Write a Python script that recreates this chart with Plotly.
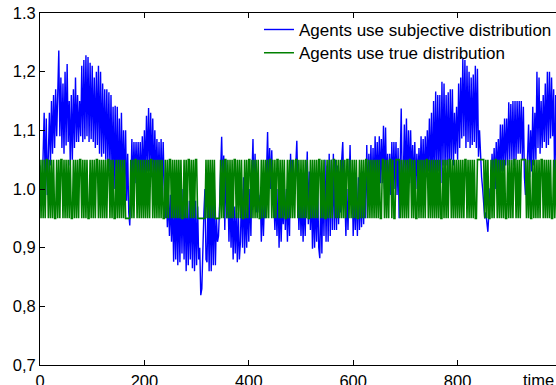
import plotly.graph_objects as go

# subjective-distribution series, one value every 2 time units (t = 0..998)
subj = [
    1.04, 1.02, 0.99, 1.06, 1.13, 1.00, 1.12, 0.99, 1.05, 1.13, 1.04, 1.15, 1.06, 1.16, 1.07, 1.17, 1.09, 1.20, 1.236, 1.09,
    1.19, 1.07, 1.18, 1.06, 1.20, 1.074, 1.213, 1.08, 1.15, 1.04, 1.16, 1.05, 1.17, 1.07, 1.19, 1.08, 1.16, 1.08, 1.15, 1.09,
    1.21, 1.08, 1.22, 1.085, 1.228, 1.09, 1.225, 1.08, 1.215, 1.085, 1.21, 1.08, 1.19, 1.07, 1.20, 1.075, 1.21, 1.06, 1.20, 1.055,
    1.18, 1.06, 1.17, 1.05, 1.17, 1.04, 1.165, 1.03, 1.16, 1.018, 1.14, 1.00, 1.142, 0.99, 1.14, 0.98, 1.12, 0.99, 1.13, 1.00,
    1.10, 1.00, 1.10, 0.98, 1.06, 0.96, 0.938, 1.00, 1.085, 1.00, 1.08, 1.01, 1.08, 1.01, 1.08, 1.00, 1.08, 1.00, 1.09, 1.01,
    1.10, 1.02, 1.125, 1.03, 1.138, 1.03, 1.13, 1.02, 1.12, 1.00, 1.10, 1.01, 1.085, 1.00, 1.08, 0.99, 1.085, 0.99, 1.08, 1.00,
    0.95, 1.00, 0.935, 0.99, 0.92, 0.99, 0.91, 0.98, 0.876, 0.98, 0.88, 0.99, 0.87, 0.99, 0.875, 1.00, 0.89, 1.00, 0.88, 0.99,
    0.86, 0.99, 0.87, 0.98, 0.88, 0.99, 0.865, 1.00, 0.86, 0.98, 0.87, 0.97, 0.88, 0.90, 0.819, 0.83, 0.92, 0.96, 1.00, 0.88,
    0.875, 0.99, 0.86, 1.00, 0.86, 0.99, 0.87, 1.00, 0.87, 0.95, 0.91, 0.92, 0.97, 1.03, 1.089, 1.00, 1.057, 0.93, 1.05, 0.95,
    1.00, 0.91, 0.99, 0.90, 0.98, 0.88, 0.97, 0.89, 0.97, 0.875, 0.96, 0.88, 0.91, 1.00, 0.90, 1.02, 0.89, 0.98, 0.90, 0.99,
    0.91, 1.00, 0.92, 1.02, 1.085, 0.97, 1.06, 0.96, 0.97, 1.00, 0.96, 0.99, 0.91, 0.99, 0.92, 0.98, 0.95, 1.03, 1.097, 1.00,
    1.07, 1.00, 1.066, 0.99, 0.98, 0.93, 0.99, 0.92, 1.00, 0.90, 0.99, 0.91, 0.98, 0.94, 1.00, 0.93, 1.00, 0.91, 0.99, 0.92,
    1.06, 0.98, 1.05, 0.99, 1.00, 1.04, 1.082, 1.00, 0.93, 1.00, 0.92, 0.99, 0.91, 0.99, 0.92, 1.00, 1.064, 0.94, 1.03, 0.93,
    1.00, 0.898, 0.99, 0.90, 0.99, 0.91, 1.00, 0.90, 0.882, 1.00, 0.89, 1.02, 0.92, 1.05, 0.91, 1.04, 0.91, 1.06, 0.92, 1.05,
    0.93, 1.06, 0.93, 1.05, 0.93, 1.04, 0.94, 1.03, 0.96, 1.05, 1.08, 1.00, 0.99, 0.92, 1.00, 0.93, 1.00, 1.075, 0.98, 1.02,
    0.92, 1.00, 0.93, 1.01, 0.92, 1.02, 0.93, 1.00, 0.935, 1.03, 0.94, 1.02, 0.95, 1.075, 0.97, 1.06, 1.00, 1.075, 0.99, 1.07,
    0.99, 1.09, 1.00, 1.08, 1.00, 1.09, 1.01, 1.085, 1.01, 1.108, 1.00, 1.105, 1.00, 1.06, 0.99, 1.06, 0.99, 1.08, 1.00, 1.08,
    1.00, 1.08, 0.99, 1.07, 0.95, 1.04, 1.137, 1.00, 1.02, 1.11, 1.01, 1.12, 1.00, 1.10, 1.01, 1.10, 1.02, 1.075, 1.00, 1.08,
    1.00, 1.06, 1.01, 1.07, 1.01, 1.09, 1.00, 1.085, 1.00, 1.09, 1.02, 1.10, 1.03, 1.12, 1.02, 1.13, 1.00, 1.15, 1.02, 1.166,
    1.02, 1.16, 1.03, 1.16, 1.01, 1.183, 1.04, 1.18, 1.03, 1.16, 1.04, 1.165, 1.02, 1.17, 1.05, 1.17, 1.04, 1.13, 1.06, 1.14,
    1.05, 1.18, 1.07, 1.19, 1.086, 1.222, 1.09, 1.22, 1.07, 1.21, 1.08, 1.20, 1.07, 1.19, 1.075, 1.195, 1.08, 1.21, 1.07, 1.205,
    1.055, 1.10, 1.05, 1.02, 1.00, 0.97, 0.95, 0.96, 0.94, 0.927, 0.96, 1.00, 1.00, 1.06, 1.01, 1.07, 1.00, 1.08, 1.02, 1.085,
    1.02, 1.11, 1.03, 1.11, 1.03, 1.12, 1.04, 1.12, 1.04, 1.148, 1.05, 1.145, 1.05, 1.15, 1.04, 1.15, 1.05, 1.15, 1.06, 1.15,
    1.06, 1.15, 1.05, 1.14, 1.02, 0.99, 1.00, 1.05, 1.11, 1.02, 1.10, 1.03, 1.14, 1.04, 1.13, 1.05, 1.20, 1.07, 1.19, 1.06,
    1.15, 1.07, 1.16, 1.08, 1.18, 1.07, 1.20, 1.075, 1.20, 1.086, 1.19, 1.09, 1.17, 1.00, 1.16, 1.02, 1.16, 1.02, 1.16, 1.03,
]
t_subj = [2 * i for i in range(len(subj))]

# true-distribution series: state every 2 time units (1 -> high level, 0 -> low level)
true_states = (
    "1010101101" "0101001010" "1101010101" "0010101011" "0101010010"
    "1010110101" "0101011010" "1001010101" "0100000101" "0110101010"
    "1010101101" "0101010100" "1010110101" "0101010010" "1011010101"
    "1000000001" "0101010100" "0001010110" "1010101101" "0101001010"
    "1101010101" "0010101010" "1101010110" "1010100101" "0101011010"
    "1010101001" "0101010110" "1010010101" "0110101010" "1010110101"
    "0101001010" "1011010101" "0101010011" "0101011010" "0111101010"
    "1010110101" "0010101010" "1101010101" "0101001010" "1011010101"
    "0101010110" "1010101001" "1111110101" "0010101101" "0101010010"
    "1010110101" "0111110101" "0010101010" "1101010101" "0010101101"
)
true_levels = [0.95, 1.05]
t_true = [2 * i for i in range(len(true_states))]
true_vals = [true_levels[int(c)] for c in true_states]

y_ticks = [0.7, 0.8, 0.9, 1.0, 1.1, 1.2, 1.3]
y_ticktext = ["0,7", "0,8", "0,9", "1.0", "1,1", "1,2", "1.3"]
x_ticks = [0, 200, 400, 600, 800, 1000]
x_ticktext = ["0", "200", "400", "600", "800", ""]

FONT = "Liberation Sans, Arial, Helvetica, sans-serif"

fig = go.Figure()
fig.add_trace(go.Scatter(
    x=t_subj, y=subj, mode="lines",
    line=dict(color="#0000ff", width=1.4),
    name="Agents use subjective distribution",
    legend="legend",
))
fig.add_trace(go.Scatter(
    x=t_true, y=true_vals, mode="lines",
    line=dict(color="#008000", width=1.6),
    name="Agents use true distribution",
    legend="legend2",
))

axis_common = dict(
    showgrid=False, zeroline=False, showline=True, linecolor="black",
    linewidth=1, mirror="ticks", ticks="inside", ticklen=5,
    tickcolor="black", tickwidth=1, automargin=False,
    tickfont=dict(family=FONT, size=16.5, color="black"),
)

legend_common = dict(
    xanchor="left", yanchor="top",
    bgcolor="rgba(0,0,0,0)", borderwidth=0,
    font=dict(family=FONT, size=17, color="black"),
    itemwidth=30,
)

fig.update_layout(
    width=562, height=385,
    margin=dict(l=39.5, r=0, t=13, b=19.5, autoexpand=False),
    paper_bgcolor="white", plot_bgcolor="white",
    showlegend=True,
    legend=dict(x=0.4195, y=1.003, **legend_common),
    legend2=dict(x=0.4195, y=0.937, **legend_common),
    xaxis=dict(range=[0, 1000], tickvals=x_ticks, ticktext=x_ticktext,
               ticklabelstandoff=1, **axis_common),
    yaxis=dict(range=[0.7, 1.3], tickvals=y_ticks, ticktext=y_ticktext,
               **axis_common),
    annotations=[dict(
        text="time", xref="x", yref="paper", x=955, y=0,
        xanchor="center", yanchor="top", yshift=-4, showarrow=False,
        font=dict(family=FONT, size=16.5, color="black"),
    )],
)

fig.write_html(
    "out.html",
    config={"displayModeBar": False},
    post_script=(
        "document.body.style.margin='0';"
        "document.body.style.overflow='hidden';"
        "document.documentElement.style.overflow='hidden';"
    ),
)
